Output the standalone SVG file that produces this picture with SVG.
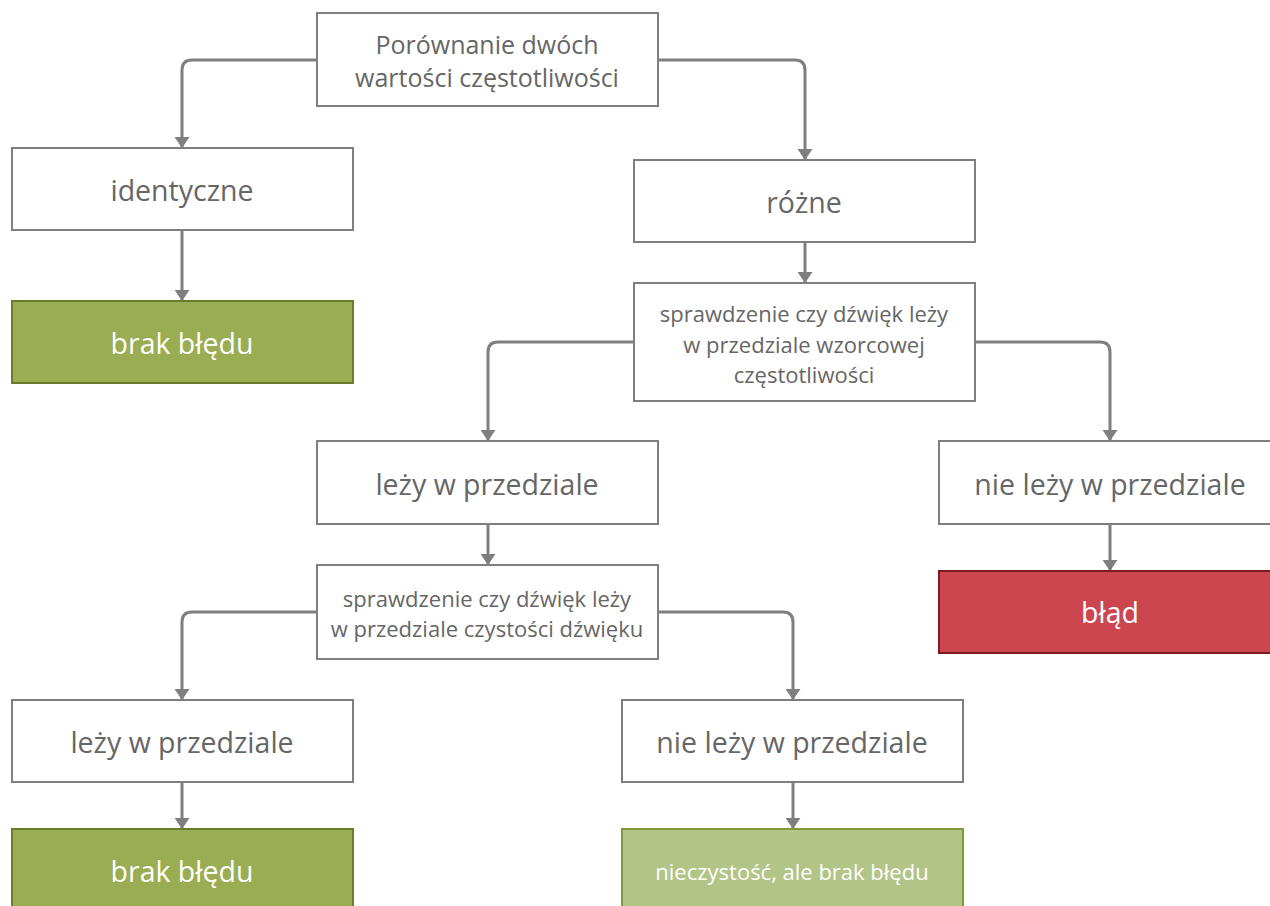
<svg xmlns="http://www.w3.org/2000/svg" width="1270" height="906" viewBox="0 0 1270 906">
<style>
.box{fill:#fff;stroke:#7f7f7f;stroke-width:2}
.green{fill:#9aad52;stroke:#6b7a2e;stroke-width:2}
.lgreen{fill:#b2c587;stroke:#7c9a3c;stroke-width:2}
.red{fill:#cc4650;stroke:#7a1c22;stroke-width:2}
.t{font-family:"Open Sans",sans-serif;fill:#666;text-anchor:middle;dominant-baseline:central}
.L{font-size:28.5px}
.M{font-size:22px}
.T{font-size:25px}
.w{fill:#fff}
.c{fill:none;stroke:#7f7f7f;stroke-width:3;marker-end:url(#ah)}
</style>
<defs>
<marker id="ah" viewBox="0 0 11 15" refX="11" refY="7.5" markerWidth="11" markerHeight="15" markerUnits="userSpaceOnUse" orient="auto">
<path d="M0,0 L11,7.5 L0,15 Z" fill="#7f7f7f"/>
</marker>
</defs>
<rect width="1270" height="906" fill="#fff"/>
<g id="connectors">
<path class="c" d="M317,60 H192 Q182,60 182,70 V148"/>
<path class="c" d="M658,60 H795 Q805,60 805,70 V160"/>
<path class="c" d="M182,230 V301"/>
<path class="c" d="M805,242 V283"/>
<path class="c" d="M634,342 H498 Q488,342 488,352 V441"/>
<path class="c" d="M975,342 H1100 Q1110,342 1110,352 V441"/>
<path class="c" d="M488,524 V565"/>
<path class="c" d="M1110,524 V571"/>
<path class="c" d="M317,612 H192 Q182,612 182,622 V700"/>
<path class="c" d="M658,612 H783 Q793,612 793,622 V700"/>
<path class="c" d="M182,782 V829"/>
<path class="c" d="M793,782 V829"/>
</g>
<g id="n_start"><rect class="box" x="317" y="13" width="341" height="93"/>
<text class="t T" x="487" y="44">Porównanie dwóch</text>
<text class="t T" x="487" y="77">wartości częstotliwości</text></g>
<g id="n_identyczne"><rect class="box" x="12" y="148" width="341" height="82"/>
<text class="t L" x="182" y="190">identyczne</text></g>
<g id="n_brak1"><rect class="green" x="12" y="301" width="341" height="82"/>
<text class="t L w" x="182" y="343">brak błędu</text></g>
<g id="n_rozne"><rect class="box" x="634" y="160" width="341" height="82"/>
<text class="t L" x="804" y="202">różne</text></g>
<g id="n_check1"><rect class="box" x="634" y="283" width="341" height="118"/>
<text class="t M" x="804" y="313">sprawdzenie czy dźwięk leży</text>
<text class="t M" x="804" y="344">w przedziale wzorcowej</text>
<text class="t M" x="804" y="374">częstotliwości</text></g>
<g id="n_lezy1"><rect class="box" x="317" y="441" width="341" height="83"/>
<text class="t L" x="487" y="484">leży w przedziale</text></g>
<g id="n_nielezy1"><rect class="box" x="939" y="441" width="341" height="83"/>
<text class="t L" x="1110" y="484">nie leży w przedziale</text></g>
<g id="n_blad"><rect class="red" x="939" y="571" width="341" height="82"/>
<text class="t L w" x="1110" y="612">błąd</text></g>
<g id="n_check2"><rect class="box" x="317" y="565" width="341" height="94"/>
<text class="t M" x="487" y="598">sprawdzenie czy dźwięk leży</text>
<text class="t M" x="487" y="628">w przedziale czystości dźwięku</text></g>
<g id="n_lezy2"><rect class="box" x="12" y="700" width="341" height="82"/>
<text class="t L" x="182" y="742">leży w przedziale</text></g>
<g id="n_nielezy2"><rect class="box" x="622" y="700" width="341" height="82"/>
<text class="t L" x="792" y="742">nie leży w przedziale</text></g>
<g id="n_brak2"><rect class="green" x="12" y="829" width="341" height="82"/>
<text class="t L w" x="182" y="871">brak błędu</text></g>
<g id="n_nieczystosc"><rect class="lgreen" x="622" y="829" width="341" height="82"/>
<text class="t M w" x="792" y="871">nieczystość, ale brak błędu</text></g>
</svg>
